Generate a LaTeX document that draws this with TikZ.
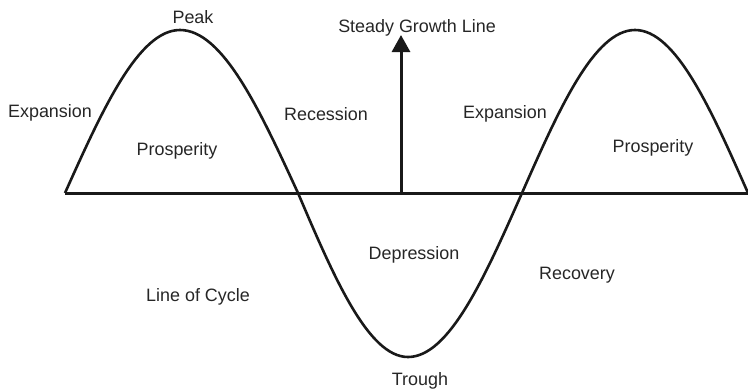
\documentclass[tikz,border=0pt]{standalone}
\usepackage{fontspec}
\setmainfont{Liberation Sans}
\usetikzlibrary{arrows.meta,positioning}

\begin{document}
\begin{tikzpicture}[
        x=1bp,
        y=-1bp,
        cycleline/.style={line width=2.6bp, draw=black!90},
        axisline/.style={line width=3bp, draw=black!90},
        tag/.style={font=\fontsize{18}{21}\selectfont, text=black!85, inner sep=0pt, anchor=base},
        >={Triangle[length=17bp, width=18bp]}
    ]
        \useasboundingbox (0,0) rectangle (748,390);
        \coordinate (z0) at (65,193);
        \coordinate (p1) at (180,30);
        \coordinate (z1) at (298,193);
        \coordinate (t1) at (408,357);
        \coordinate (z2) at (522,193);
        \coordinate (p2) at (635,30);
        \coordinate (z3) at (748,193);
        \draw[cycleline] (z0) sin (p1) cos (z1) sin (t1) cos (z2) sin (p2) cos (z3);
        \draw[axisline] (z0) -- (z3);

        \coordinate (g0) at (401,193);
        \coordinate (g1) at (401,35);
        \draw[axisline, ->] (g0) -- (g1);
        \node[tag] (growth) at (417,32) {Steady Growth Line};

        \node[tag] (peak) at (193,23) {Peak};
        \node[tag] (exp1) at (50,117) {Expansion};
        \node[tag] (pros1) at (177,155) {Prosperity};
        \node[tag] (rec) at (326,120) {Recession};
        \node[tag] (exp2) at (505,118) {Expansion};
        \node[tag] (pros2) at (653,152) {Prosperity};
        \node[tag] (dep) at (414,259) {Depression};
        \node[tag] (recov) at (577,279) {Recovery};
        \node[tag] (cyc) at (198,301) {Line of Cycle};
        \node[tag] (trough) at (420,385) {Trough};
    \end{tikzpicture}
\end{document}
